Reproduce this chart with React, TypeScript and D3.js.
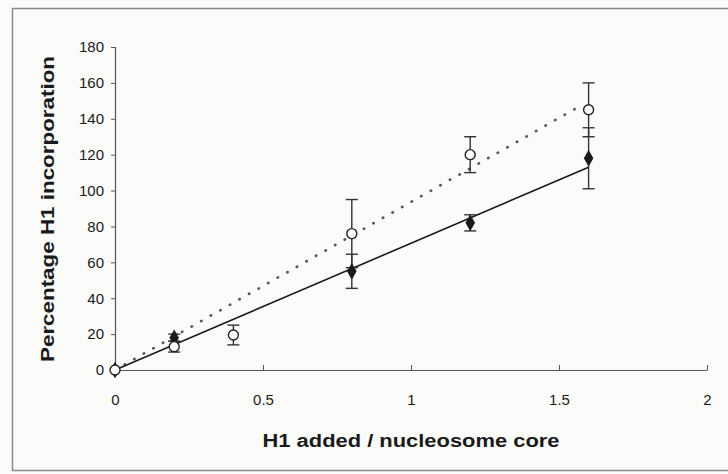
import * as d3 from "d3";
import React, { useEffect, useRef } from "react";

// H1 added per nucleosome core
const doses = [0, 0.2, 0.4, 0.8, 1.2, 1.6];

// filled diamonds (solid trend)
const filledX = [0, 0.2, 0.8, 1.2, 1.6];
const filledY = [0, 18, 55, 82, 118];
const filledErr = [0, 2, 9.5, 4.5, 17];

// open circles (dotted trend)
const openX = [0, 0.2, 0.4, 0.8, 1.2, 1.6];
const openY = [0, 13, 19.5, 76, 120, 145];
const openErr = [0, 3, 5.5, 19, 10, 15];

// linear trend end points
const solidTrendX = [0, 1.6];
const solidTrendY = [0, 113];
const dottedTrendX = [0, 1.57];
const dottedTrendY = [0, 147];

const xTicks = [0, 0.5, 1, 1.5, 2];
const yTicks = [0, 20, 40, 60, 80, 100, 120, 140, 160, 180];

const svgWidth = 728;
const svgHeight = 474;
const margin = { top: 47, right: 21, bottom: 104, left: 115 };
const width = svgWidth - margin.left - margin.right;
const height = svgHeight - margin.top - margin.bottom;

export default function App() {
  const chartRef = useRef<SVGSVGElement>(null);

  useEffect(() => {
    const svg = d3.select(chartRef.current);
    svg.selectAll("*").remove();

    svg.append("rect")
      .attr("width", svgWidth).attr("height", svgHeight)
      .attr("fill", "#fbfbfa");
    svg.append("rect")
      .attr("x", 12.5).attr("y", 8.5)
      .attr("width", 740).attr("height", 462)
      .attr("fill", "none").attr("stroke", "#8a8a8a").attr("stroke-width", 1.5);

    const g = svg.append("g").attr("transform", `translate(${margin.left},${margin.top})`);
    const x = d3.scaleLinear().domain([0, 2]).range([0, width]);
    const y = d3.scaleLinear().domain([0, 180]).range([height, 0]);

    const font = "'Liberation Sans', Arial, sans-serif";

    // y axis
    const yAxis = g.append("g").call(
      d3.axisLeft(y).tickValues(yTicks).tickSize(4).tickPadding(7).tickFormat(d3.format("d"))
    );
    yAxis.select(".domain").attr("stroke", "#555").attr("stroke-width", 1.2);
    yAxis.selectAll(".tick line").attr("stroke", "#555");
    yAxis.selectAll("text").attr("font-family", font).attr("font-size", 15).attr("fill", "#1a1a1a");

    // x axis, ticks pointing inward
    const xAxis = g.append("g").attr("transform", `translate(0,${height})`).call(
      d3.axisBottom(x).tickValues(xTicks).tickSizeInner(-5).tickSizeOuter(0).tickPadding(24)
        .tickFormat((d) => String(d))
    );
    xAxis.select(".domain").attr("stroke", "#555").attr("stroke-width", 1.2);
    xAxis.selectAll(".tick line").attr("stroke", "#555");
    xAxis.selectAll("text").attr("font-family", font).attr("font-size", 15).attr("fill", "#1a1a1a");

    // trend lines
    const line = d3.line<[number, number]>().x((d) => x(d[0])).y((d) => y(d[1]));
    g.append("path")
      .attr("d", line(dottedTrendX.map((v, i) => [v, dottedTrendY[i]]) as [number, number][]))
      .attr("fill", "none").attr("stroke", "#555").attr("stroke-width", 2.6)
      .attr("stroke-dasharray", "0.5,10.5").attr("stroke-linecap", "round");
    g.append("path")
      .attr("d", line(solidTrendX.map((v, i) => [v, solidTrendY[i]]) as [number, number][]))
      .attr("fill", "none").attr("stroke", "#1a1a1a").attr("stroke-width", 1.6);

    // error bars
    const drawErr = (xs: number[], ys: number[], es: number[]) => {
      xs.forEach((xv, i) => {
        if (!es[i]) return;
        const cx = x(xv);
        const top = y(ys[i] + es[i]);
        const bot = y(ys[i] - es[i]);
        const eg = g.append("g").attr("stroke", "#333").attr("stroke-width", 1.4);
        eg.append("line").attr("x1", cx).attr("x2", cx).attr("y1", top).attr("y2", bot);
        eg.append("line").attr("x1", cx - 6).attr("x2", cx + 6).attr("y1", top).attr("y2", top);
        eg.append("line").attr("x1", cx - 6).attr("x2", cx + 6).attr("y1", bot).attr("y2", bot);
      });
    };
    drawErr(openX, openY, openErr);
    drawErr(filledX, filledY, filledErr);

    // filled diamonds
    g.selectAll(".diamond")
      .data(filledX.map((v, i) => ({ x: v, y: filledY[i] })))
      .enter().append("path")
      .attr("class", "diamond")
      .attr("d", d3.symbol().type(d3.symbolDiamond).size(80)())
      .attr("transform", (d) => `translate(${x(d.x)},${y(d.y)})`)
      .attr("fill", "#1a1a1a");

    // open circles
    g.selectAll(".open")
      .data(openX.map((v, i) => ({ x: v, y: openY[i] })))
      .enter().append("circle")
      .attr("class", "open")
      .attr("cx", (d) => x(d.x)).attr("cy", (d) => y(d.y)).attr("r", 5)
      .attr("fill", "#fff").attr("stroke", "#222").attr("stroke-width", 1.4);

    // axis titles
    svg.append("text")
      .attr("x", margin.left + x(1)).attr("y", 447)
      .attr("text-anchor", "middle")
      .attr("font-family", font).attr("font-weight", "bold").attr("font-size", 18)
      .attr("textLength", 297).attr("lengthAdjust", "spacingAndGlyphs")
      .attr("fill", "#1a1a1a")
      .text("H1 added / nucleosome core");
    svg.append("text")
      .attr("transform", "rotate(-90)")
      .attr("x", -209).attr("y", 54)
      .attr("text-anchor", "middle")
      .attr("font-family", font).attr("font-weight", "bold").attr("font-size", 18)
      .attr("textLength", 306).attr("lengthAdjust", "spacingAndGlyphs")
      .attr("fill", "#1a1a1a")
      .text("Percentage H1 incorporation");
  }, []);

  return (
    <div style={{ position: "absolute", left: 0, top: 0 }}>
      <svg ref={chartRef} width={svgWidth} height={svgHeight} style={{ display: "block" }} />
    </div>
  );
}
